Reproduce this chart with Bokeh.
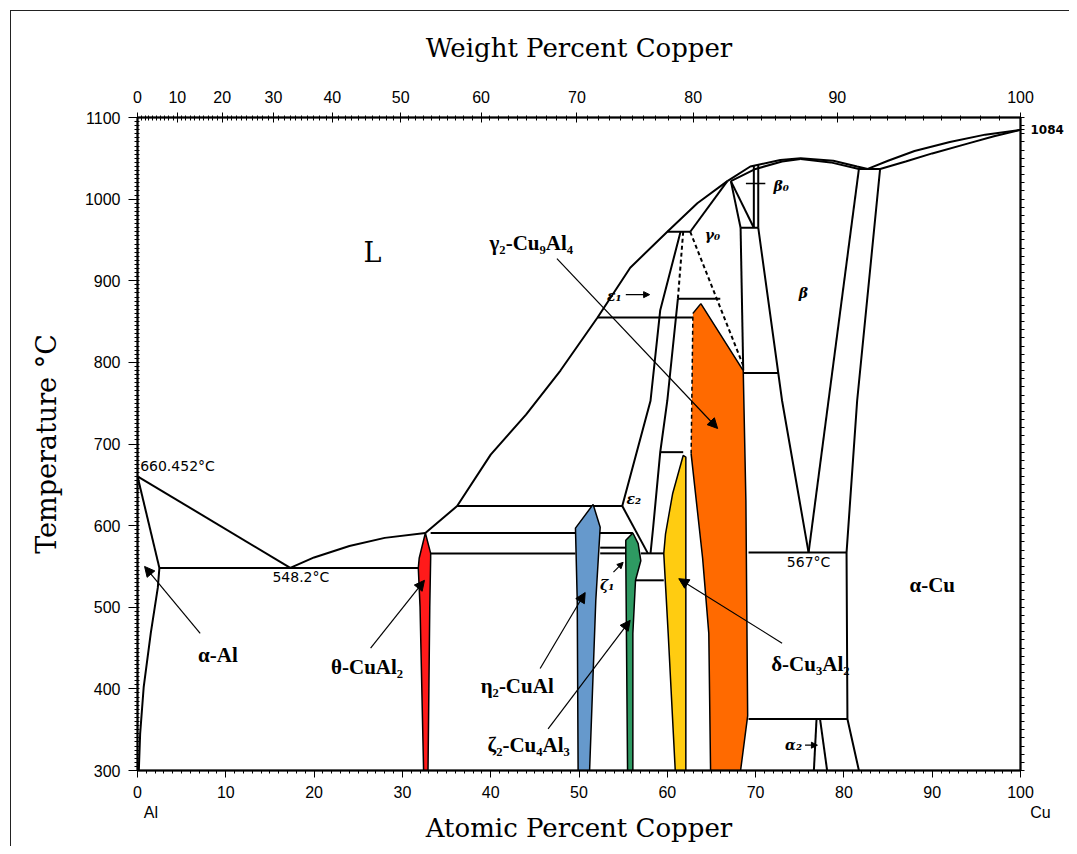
from bokeh.plotting import figure
from bokeh.models import (Range1d, LinearAxis, FixedTicker, Label, Arrow, NormalHead,
                          CustomJSTickFormatter)
from bokeh.embed import file_html
from bokeh.resources import INLINE

# ---------------- data (atomic % Cu, temperature in deg C) ----------------
# liquidus
liq_al_x = [0, 17.3]
liq_al_t = [660.452, 548.2]
liq_th_x = [17.3, 20, 24, 28, 32.6]
liq_th_t = [548.2, 561, 575, 585, 591]
liq_up_x = [32.6, 36.2, 40, 44, 47.9, 52.1, 55.8, 60.0, 63.4, 66.8]
liq_up_t = [591, 624, 687, 736, 790, 855, 916, 960, 995, 1022]
liq_b_x = [66.8, 69.4, 72.8, 75.1, 78.8, 81.5, 82.7]
liq_b_t = [1022, 1040, 1048, 1050, 1047, 1040, 1037]
sol_b1_x = [67.2, 70.0, 73.0, 75.1]
sol_b1_t = [1022, 1037, 1046, 1049]
sol_b2_x = [75.1, 78.5, 81.7]
sol_b2_t = [1049, 1045, 1037]
liq_cu_x = [82.7, 85, 88, 92, 96, 100]
liq_cu_t = [1037, 1047, 1059, 1070, 1079, 1084.87]
sol_cu_x = [84.1, 87, 90, 94, 97, 100]
sol_cu_t = [1037, 1046, 1056, 1068, 1077, 1084.87]
cu_melt = 1084.87

# alpha-Al
sol_al_x = [0, 2.48]
sol_al_t = [660.452, 548.2]
solv_al_x = [2.48, 2.3, 1.5, 0.7, 0.3, 0.15]
solv_al_t = [548.2, 524, 468, 402, 345, 300]

# invariant (horizontal) lines: x_start, x_end, temperature
iso_x0 = [2.48, 33.2, 33.2, 52.4, 52.4, 36.2, 52.1, 60.0, 61.2, 68.3, 68.6, 69.2, 69.2, 81.7, 57.0, 56.4, 59.2]
iso_x1 = [31.9, 56.1, 49.6, 55.3, 55.3, 54.9, 62.9, 62.6, 66.0, 70.3, 72.6, 80.3, 80.4, 84.1, 59.6, 59.6, 61.8]
iso_t = [548.2, 591, 566, 573, 566, 624, 855, 960, 878, 965, 787, 567, 363, 1037, 566, 533, 690]

# other phase boundaries
gam0_x = [62.6, 66.8]
gam0_t = [960, 1022]
eps_l_x = [61.5, 59.2, 58.1, 54.9]
eps_l_t = [960, 864, 753, 624]
eps_r_x = [61.2, 60.0, 59.2, 58.4, 58.1]
eps_r_t = [878, 753, 690, 598, 566]
eps2_x = [54.9, 57.8]
eps2_t = [624, 566]
dash1_x = [61.8, 61.2]
dash1_t = [960, 878]
dash2_x = [62.6, 68.6]
dash2_t = [960, 796]
vert_x = [68.3, 68.6]
vert_t = [965, 790]
tri1_x = [67.2, 68.3]
tri1_t = [1022, 965]
tri2_x = [67.2, 69.8]
tri2_t = [1022, 965]
b0a_x = [69.8, 69.8]
b0a_t = [1041, 965]
b0b_x = [70.3, 70.3]
b0b_t = [1043, 965]
b0tick_x = [68.9, 71.1]
b0tick_t = [1019, 1019]
beta_l_x = [70.3, 73.0, 76.0]
beta_l_t = [965, 753, 567]
beta_r_x = [81.7, 76.0]
beta_r_t = [1037, 567]
acu_x = [84.1, 81.5, 80.3, 80.4, 81.7]
acu_t = [1037, 753, 567, 363, 300]
a2a_x = [76.9, 76.6]
a2a_t = [363, 300]
a2b_x = [77.3, 78.1]
a2b_t = [363, 300]

# coloured single-phase fields (boundary traced clockwise)
theta_x = [32.6, 33.2, 33.2, 33.1, 33.0, 32.9, 32.4, 32.2, 32.0, 31.8, 31.9]
theta_t = [591, 566, 560, 500, 400, 300, 300, 400, 500, 548, 560]
eta2_x = [51.6, 52.4, 51.9, 51.2, 49.9, 49.8, 49.6]
eta2_t = [626, 598, 508, 300, 300, 508, 597]
zeta2_x = [56.1, 56.7, 57.0, 56.4, 56.1, 56.1, 55.5, 55.3, 55.3]
zeta2_t = [591, 578, 557, 533, 468, 300, 300, 561, 582]
delta_x = [61.8, 62.1, 62.1, 60.9, 60.1, 59.6, 59.8, 60.6]
delta_t = [686, 684, 300, 300, 468, 566, 590, 639]
gam2_x = [63.8, 68.6, 68.9, 69.1, 68.3, 64.9, 64.7, 64.0, 62.7, 62.9]
gam2_t = [872, 790, 631, 367, 300, 300, 468, 560, 688, 860]

# axis ticks
at_ticks = [0, 10, 20, 30, 40, 50, 60, 70, 80, 90, 100]
t_ticks = [300, 400, 500, 600, 700, 800, 900, 1000, 1100]
wt_ticks = [0, 10, 20, 30, 40, 50, 60, 70, 80, 90, 100]
M_CU, M_AL = 63.546, 26.9815


def wt_to_at(w):
    if w <= 0:
        return 0.0
    if w >= 100:
        return 100.0
    n_cu = w / M_CU
    n_al = (100 - w) / M_AL
    return 100 * n_cu / (n_cu + n_al)


# ---------------- figure ----------------
p = figure(width=1069, height=846, x_range=Range1d(0, 100), y_range=Range1d(300, 1100),
           output_backend="svg", toolbar_location=None,
           min_border_left=137, min_border_right=49, min_border_top=117, min_border_bottom=76)
p.xgrid.visible = False
p.ygrid.visible = False
p.outline_line_color = "black"
p.outline_line_width = 1.5
p.background_fill_color = "white"
p.border_fill_color = None
p.styles = {
    "background": "linear-gradient(#222,#222) 10px 10px / 1px 100% no-repeat, "
                  "linear-gradient(#222,#222) 10px 10px / 100% 1px no-repeat, white",
}

TICK_FONT = "Liberation Sans"
TITLE_FONT = "DejaVu Serif"
NB = "\u00a0"

# bottom axis (element symbols under the end ticks)
xa = p.xaxis[0]
xa.ticker = FixedTicker(ticks=at_ticks, minor_ticks=list(range(0, 101)))
xa.major_label_overrides = {0: "0\n" + NB * 6 + "Al", 100: "100\n" + NB * 9 + "Cu"}
xa.axis_label = "Atomic Percent Copper"
xa.axis_label_text_font = TITLE_FONT
xa.axis_label_text_font_style = "normal"
xa.axis_label_text_font_size = "26px"
xa.axis_label_text_color = "black"
xa.axis_label_standoff = -11
xa.major_label_text_font = TICK_FONT
xa.major_label_text_font_size = "16px"
xa.major_label_text_color = "black"
xa.major_label_standoff = 6
xa.major_tick_out = 7
xa.major_tick_in = 0
xa.minor_tick_out = 3
xa.minor_tick_in = 0
xa.axis_line_width = 2

# left axis
ya = p.yaxis[0]
ya.ticker = FixedTicker(ticks=t_ticks, minor_ticks=list(range(300, 1101, 5)))
ya.axis_label = "Temperature °C"
ya.axis_label_text_font = TITLE_FONT
ya.axis_label_text_font_style = "normal"
ya.axis_label_text_font_size = "27px"
ya.axis_label_text_color = "black"
ya.axis_label_standoff = 20
ya.major_label_text_font = TICK_FONT
ya.major_label_text_font_size = "16px"
ya.major_label_text_color = "black"
ya.major_label_standoff = 8
ya.major_tick_out = 9
ya.major_tick_in = 0
ya.minor_tick_out = 3
ya.minor_tick_in = 2
ya.axis_line_width = 2

# top axis (weight percent)
top = LinearAxis(
    ticker=FixedTicker(ticks=[wt_to_at(w) for w in wt_ticks],
                       minor_ticks=[wt_to_at(w) for w in range(0, 101)]),
    formatter=CustomJSTickFormatter(code="""
        const a = tick;
        if (a <= 0.001) return '0';
        if (a >= 99.999) return '100';
        const w = 100*a*63.546/(a*63.546 + (100-a)*26.9815);
        return Math.round(w).toString();
    """),
    axis_label="Weight Percent Copper",
    axis_label_text_font=TITLE_FONT, axis_label_text_font_style="normal",
    axis_label_text_font_size="26px", axis_label_text_color="black", axis_label_standoff=25,
    major_label_text_font=TICK_FONT, major_label_text_font_size="16px",
    major_label_text_color="black",
    major_label_standoff=10, major_tick_out=5, major_tick_in=5,
    minor_tick_out=2, minor_tick_in=3, axis_line_width=2)
p.add_layout(top, "above")

# right axis: only the Cu melting point is labelled
right = LinearAxis(
    ticker=FixedTicker(ticks=[cu_melt], minor_ticks=list(range(300, 1101, 10))),
    formatter=CustomJSTickFormatter(code="return Math.floor(tick).toString();"),
    major_label_text_font="DejaVu Sans", major_label_text_font_style="bold",
    major_label_text_font_size="12px", major_label_text_color="black",
    major_label_standoff=6, major_tick_out=4, major_tick_in=0,
    minor_tick_out=4, minor_tick_in=0, axis_line_width=2)
p.add_layout(right, "right")

LW = 2.0
K = "black"

# coloured fields (drawn first, outlines later)
fields = [(theta_x, theta_t, "#ff1a1a"), (eta2_x, eta2_t, "#6699cc"),
          (zeta2_x, zeta2_t, "#2e9a62"), (delta_x, delta_t, "#ffcc11"),
          (gam2_x, gam2_t, "#ff6a00")]

# boundary lines
for xs, ts in [(liq_al_x, liq_al_t), (liq_th_x, liq_th_t), (liq_up_x, liq_up_t),
               (liq_b_x, liq_b_t), (sol_b1_x, sol_b1_t), (sol_b2_x, sol_b2_t),
               (liq_cu_x, liq_cu_t), (sol_cu_x, sol_cu_t),
               (sol_al_x, sol_al_t), (solv_al_x, solv_al_t),
               (gam0_x, gam0_t), (eps_l_x, eps_l_t), (eps_r_x, eps_r_t), (eps2_x, eps2_t),
               (vert_x, vert_t), (tri1_x, tri1_t), (tri2_x, tri2_t),
               (b0a_x, b0a_t), (b0b_x, b0b_t),
               (beta_l_x, beta_l_t), (beta_r_x, beta_r_t), (acu_x, acu_t),
               (a2a_x, a2a_t), (a2b_x, a2b_t)]:
    p.line(xs, ts, line_color=K, line_width=LW)

for x0, x1, t in zip(iso_x0, iso_x1, iso_t):
    p.line([x0, x1], [t, t], line_color=K, line_width=LW)

p.line(b0tick_x, b0tick_t, line_color=K, line_width=1.5)
p.line(dash1_x, dash1_t, line_color=K, line_width=LW, line_dash="4 3")
p.line(dash2_x, dash2_t, line_color=K, line_width=LW, line_dash="4 3")

for xs, ts, col in fields[:4]:
    p.patch(xs, ts, fill_color=col, line_color=K, line_width=1.5)
# gamma-2 : left upper edge dashed
xs, ts, col = fields[4]
p.patch(xs, ts, fill_color=col, line_color=None)
p.line(gam2_x[:9], gam2_t[:9], line_color=K, line_width=1.5)
p.line([gam2_x[9], gam2_x[0]], [gam2_t[9], gam2_t[0]], line_color=K, line_width=1.5)
p.line(gam2_x[8:10], gam2_t[8:10], line_color=K, line_width=1.5, line_dash="4 3")

# ---------------- labels ----------------
BOLD = dict(text_font="Liberation Serif", text_font_style="bold", text_font_size="21px",
            text_align="center", text_baseline="middle", text_color="black")
for x, t, s in [(44.6, 946, "γ₂-Cu₉Al₄"), (76.2, 431, "δ-Cu₃Al₂"), (90.0, 527, "α-Cu"),
                (9.1, 441, "α-Al"), (26.0, 427, "θ-CuAl₂"), (43.0, 403, "η₂-CuAl"),
                (44.3, 331, "ζ₂-Cu₄Al₃")]:
    p.add_layout(Label(x=x, y=t, text=s, **BOLD))

p.add_layout(Label(x=26.6, y=934, text="L", text_font="DejaVu Serif", text_font_size="27px",
                   text_align="center", text_baseline="middle", text_color="black"))

SMALL = dict(text_font="DejaVu Serif", text_font_style="bold italic", text_font_size="14px",
             text_align="center", text_baseline="middle", text_color="black")
for x, t, s in [(75.4, 885, "β"), (56.2, 633, "ε₂"), (54.0, 881, "ε₁"), (65.1, 956, "γ₀"),
                (72.9, 1016, "β₀"), (53.2, 527, "ζ₁"), (74.3, 331, "α₂")]:
    p.add_layout(Label(x=x, y=t, text=s, **SMALL))

NUM = dict(text_font="DejaVu Sans", text_font_size="14px", text_baseline="middle",
           text_color="black")
p.add_layout(Label(x=0.3, y=673, text="660.452°C", text_align="left", **NUM))
p.add_layout(Label(x=18.5, y=537, text="548.2°C", text_align="center", **NUM))
p.add_layout(Label(x=76.0, y=555, text="567°C", text_align="center", **NUM))

# arrows
for xs_, ts_, xe, te in [(7.1, 468, 0.8, 550), (26.4, 450, 32.5, 533), (45.6, 425, 50.7, 518),
                         (46.5, 351, 55.8, 484), (73.0, 456, 61.3, 535), (47.5, 927, 65.7, 719)]:
    p.add_layout(Arrow(end=NormalHead(size=10, fill_color=K, line_color=K),
                       x_start=xs_, y_start=ts_, x_end=xe, y_end=te,
                       line_color=K, line_width=1.2))
for xs_, ts_, xe, te in [(55.3, 883, 58.0, 883), (75.6, 331, 77.0, 331), (53.9, 543, 55.0, 555)]:
    p.add_layout(Arrow(end=NormalHead(size=6, fill_color=K, line_color=K),
                       x_start=xs_, y_start=ts_, x_end=xe, y_end=te,
                       line_color=K, line_width=1.2))

open("out.html", "w").write(file_html(p, INLINE))
